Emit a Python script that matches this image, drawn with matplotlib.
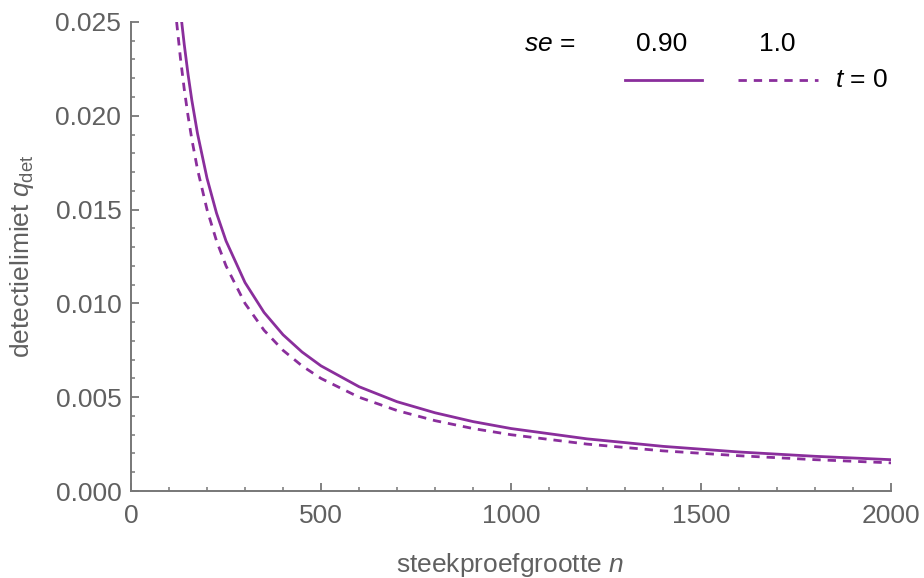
import matplotlib
matplotlib.use("Agg")
import matplotlib.pyplot as plt
from matplotlib.lines import Line2D
from matplotlib.ticker import MultipleLocator

plt.rcParams['font.family'] = ['Liberation Sans', 'DejaVu Sans']
plt.rcParams['mathtext.fontset'] = 'custom'
plt.rcParams['mathtext.rm'] = 'Liberation Sans'
plt.rcParams['mathtext.it'] = 'Liberation Sans:italic'

# values
n_se090 = [133, 140, 150, 160, 175, 200, 225, 250, 300, 350, 400, 450, 500,
           600, 700, 800, 900, 1000, 1200, 1400, 1600, 1800, 2000]
q_se090 = [0.02506, 0.02381, 0.02222, 0.02083, 0.01905, 0.01667, 0.01481,
           0.01333, 0.01111, 0.00952, 0.00833, 0.00741, 0.00667, 0.00556,
           0.00476, 0.00417, 0.00370, 0.00333, 0.00278, 0.00238, 0.00208,
           0.00185, 0.00167]

n_se100 = [120, 130, 140, 150, 160, 175, 200, 225, 250, 300, 350, 400, 450,
           500, 600, 700, 800, 900, 1000, 1200, 1400, 1600, 1800, 2000]
q_se100 = [0.02500, 0.02308, 0.02143, 0.02000, 0.01875, 0.01714, 0.01500,
           0.01333, 0.01200, 0.01000, 0.00857, 0.00750, 0.00667, 0.00600,
           0.00500, 0.00429, 0.00375, 0.00333, 0.00300, 0.00250, 0.00214,
           0.00188, 0.00167, 0.00150]

PURPLE = '#8a2e9c'
AXIS = '#777777'
LABEL = '#606060'
FS = 19
LW = 2.0
DASH = (3.0, 2.5)

fig = plt.figure(figsize=(9.24, 5.78), dpi=100)
ax = fig.add_axes([0.1418, 0.1505, 0.8225, 0.8115])

ax.plot(n_se090, q_se090, color=PURPLE, lw=LW, solid_joinstyle='round')
ax.plot(n_se100, q_se100, color=PURPLE, lw=LW, dashes=DASH)

ax.set_xlim(0, 2000)
ax.set_ylim(0, 0.025)

for side in ('top', 'right'):
    ax.spines[side].set_visible(False)
for side in ('left', 'bottom'):
    ax.spines[side].set_color(AXIS)
    ax.spines[side].set_linewidth(1.4)

ax.xaxis.set_major_locator(MultipleLocator(500))
ax.xaxis.set_minor_locator(MultipleLocator(100))
ax.yaxis.set_major_locator(MultipleLocator(0.005))
ax.yaxis.set_minor_locator(MultipleLocator(0.001))
ax.yaxis.set_major_formatter(plt.FuncFormatter(lambda v, p: f"{v:.3f}"))
ax.tick_params(which='major', direction='in', length=5.5, width=1.3,
               color=AXIS, labelcolor=LABEL, labelsize=FS)
ax.tick_params(axis='y', which='major', pad=7)
ax.tick_params(axis='x', which='major', pad=9)
ax.tick_params(which='minor', direction='in', length=3, width=1.1, color=AXIS)

ax.set_xlabel("steekproefgrootte $\\it{n}$", fontsize=FS, color=LABEL,
              va='center')
ax.xaxis.set_label_coords(0.499, (491 - 565) / 469)
ax.set_ylabel("detectielimiet $\\it{q}_{\\rm det}$", fontsize=FS, color=LABEL,
              va='center')
ax.yaxis.set_label_coords((22 - 131) / 760, 0.501)

# legend block, top right
row1 = 1 - 44 / 578
row2 = 1 - 80 / 578
fig.text(575 / 924, row1, "$\\it{se}$ =", fontsize=FS, ha='right',
         va='center')
fig.text(662 / 924, row1, "0.90", fontsize=FS, ha='center', va='center')
fig.text(777 / 924, row1, "1.0", fontsize=FS, ha='center', va='center')
fig.add_artist(Line2D([625 / 924, 702 / 924], [row2, row2],
                      color=PURPLE, lw=LW, transform=fig.transFigure))
fig.add_artist(Line2D([738 / 924, 818 / 924], [row2, row2],
                      color=PURPLE, lw=LW, dashes=DASH,
                      transform=fig.transFigure))
fig.text(835 / 924, row2, "$\\it{t}$ = 0", fontsize=FS, ha='left',
         va='center')

fig.savefig("out.png", dpi=100)
